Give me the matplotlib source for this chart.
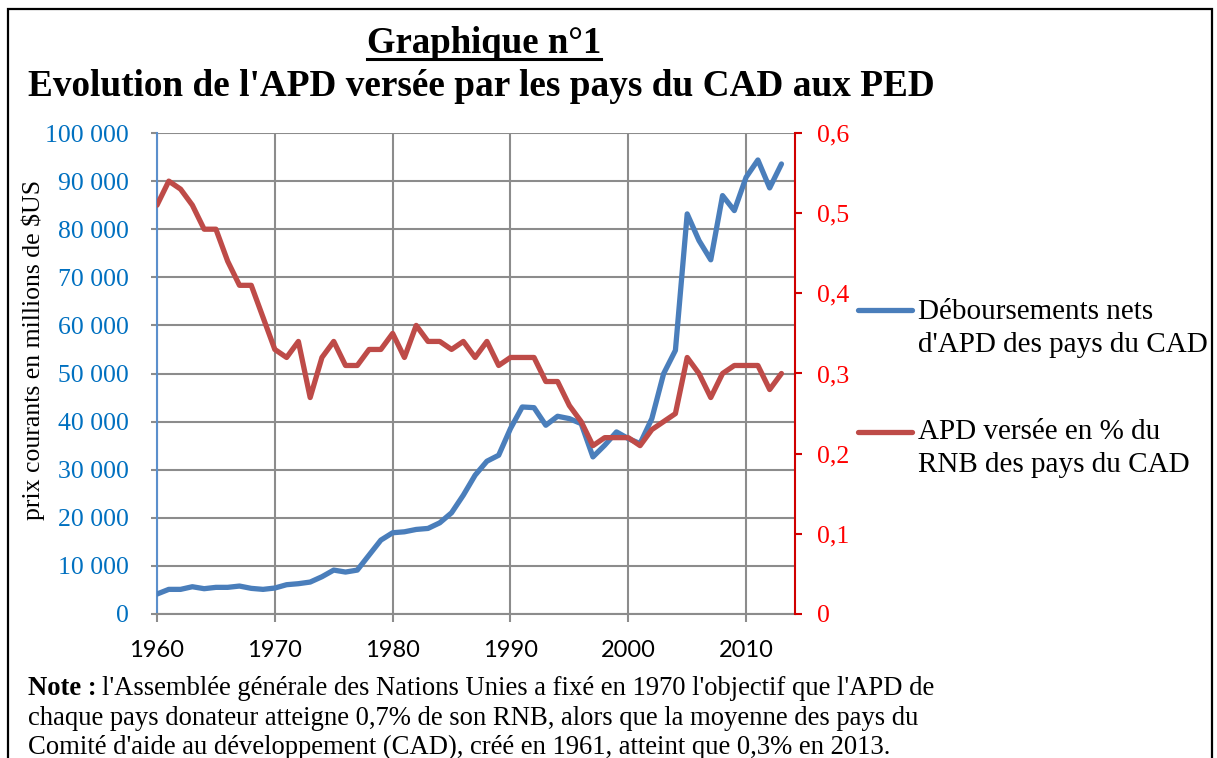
import matplotlib
matplotlib.use("Agg")
import matplotlib.pyplot as plt
from matplotlib.lines import Line2D
from matplotlib.patches import Rectangle
from matplotlib.ticker import FuncFormatter, MultipleLocator

annees = list(range(1960, 2014))

# APD nette des pays du CAD (millions de $US courants)
apd_nette = [4150, 5120, 5120, 5670, 5260, 5540, 5540, 5810, 5330, 5120,
             5400, 6090, 6300, 6640, 7750, 9130, 8720, 9130, 12250, 15360,
             16890, 17090, 17580, 17790, 18960, 21040, 24710, 28860, 31760, 33010,
             38550, 43040, 42900, 39240, 41110, 40620, 39580, 32660, 35090, 37850,
             36470, 35430, 40620, 49970, 54810, 83180, 77650, 73630, 86990, 83870,
             90800, 94390, 88580, 93560]

# APD en % du RNB
apd_rnb = [0.51, 0.54, 0.53, 0.51, 0.48, 0.48, 0.44, 0.41, 0.41, 0.37,
           0.33, 0.32, 0.34, 0.27, 0.32, 0.34, 0.31, 0.31, 0.33, 0.33,
           0.35, 0.32, 0.36, 0.34, 0.34, 0.33, 0.34, 0.32, 0.34, 0.31,
           0.32, 0.32, 0.32, 0.29, 0.29, 0.26, 0.24, 0.21, 0.22, 0.22,
           0.22, 0.21, 0.23, 0.24, 0.25, 0.32, 0.30, 0.27, 0.30, 0.31,
           0.31, 0.31, 0.28, 0.30]

lib_apd = ["Déboursements nets", "d'APD des pays du CAD"]
lib_rnb = ["APD versée en % du", "RNB des pays du CAD"]

BLEU = '#4A7EBB'
ROUGE = '#BE4B48'
GRIS = '#8C8C8C'
serif = 'Liberation Serif'

W, H = 1217, 758
fig = plt.figure(figsize=(W / 100, H / 100), dpi=100)

# cadre
fig.add_artist(Rectangle((8 / W, -0.05), 1204 / W, 1.05 - 9 / H, transform=fig.transFigure,
                         fill=False, edgecolor='black', linewidth=1.6))

ax = fig.add_axes([157 / W, 1 - 614 / H, (795 - 157) / W, (614 - 133) / H])
ax2 = ax.twinx()

ax.plot(annees, apd_nette, color=BLEU, linewidth=3.8, solid_capstyle='round', zorder=3)
ax2.plot(annees, apd_rnb, color=ROUGE, linewidth=3.8, solid_capstyle='round', zorder=3)

ax.set_xlim(1960, 2014.15)
ax.set_ylim(0, 100000)
ax2.set_ylim(0, 0.6)

ax.xaxis.set_major_locator(MultipleLocator(10))
ax.yaxis.set_major_locator(MultipleLocator(10000))
ax2.yaxis.set_major_locator(MultipleLocator(0.1))

ax.grid(True, color=GRIS, linewidth=1.5, zorder=0)
ax.set_axisbelow(True)

for s in ['top', 'right']:
    ax.spines[s].set_visible(False)
ax.spines['bottom'].set_color(GRIS)
ax.spines['bottom'].set_linewidth(1.5)
ax.spines['left'].set_color('#5B8FCC')
ax.spines['left'].set_linewidth(1.5)
for s in ['top', 'left', 'bottom']:
    ax2.spines[s].set_visible(False)
ax2.spines['right'].set_color('#D00000')
ax2.spines['right'].set_linewidth(1.5)

ax.yaxis.set_major_formatter(FuncFormatter(lambda v, _: f'{int(v):,}'.replace(',', ' ')))
ax2.yaxis.set_major_formatter(FuncFormatter(lambda v, _: '0' if v == 0 else f'{v:.1f}'.replace('.', ',')))

ax.tick_params(axis='y', direction='out', length=4.5, width=1.5, color=GRIS,
               labelcolor='#0070C0', labelsize=18.5, pad=16)
ax.tick_params(axis='x', direction='out', length=6, width=1.5, color=GRIS,
               labelcolor='black', labelsize=17, pad=13)
ax2.tick_params(axis='y', direction='out', length=5, width=1.5, color='#D00000',
                labelcolor='#FF0000', labelsize=18.5, pad=11)
for lab in ax.get_yticklabels() + ax2.get_yticklabels():
    lab.set_fontfamily(serif)
for lab in ax.get_xticklabels():
    lab.set_fontfamily('Lato')

ax.set_ylabel('prix courants en millions de $US', fontfamily=serif, fontsize=18.5)
ax.yaxis.set_label_coords(-(157 - 45) / (795 - 157), 0.548)

# titres
t1 = fig.text(484 / W, 1 - 53 / H, 'Graphique n°1', ha='center', va='baseline',
              fontfamily=serif, fontsize=26.5, fontweight='bold')
fig.text(28 / W, 1 - 96 / H, "Evolution de l'APD versée par les pays du CAD aux PED",
         ha='left', va='baseline', fontfamily=serif, fontsize=26.8, fontweight='bold')

# légende
def entree(y_handle, y_base, couleur, lignes):
    fig.add_artist(Line2D([858 / W, 912 / W], [1 - y_handle / H] * 2, transform=fig.transFigure,
                          color=couleur, linewidth=3.8, solid_capstyle='round'))
    for i, txt in enumerate(lignes):
        fig.text(918 / W, 1 - (y_base + 33.5 * i) / H, txt, ha='left', va='baseline',
                 fontfamily=serif, fontsize=21)

entree(310, 319, BLEU, lib_apd)
entree(432, 439, ROUGE, lib_rnb)

# note
taille = 19.2
n1 = fig.text(28 / W, 1 - 695 / H, 'Note :', ha='left', va='baseline',
              fontfamily=serif, fontsize=taille, fontweight='bold')
rend = fig.canvas.get_renderer()
bb = n1.get_window_extent(rend)
fig.text((bb.x1 + 5) / W, 1 - 695 / H,
         "l'Assemblée générale des Nations Unies a fixé en 1970 l'objectif que l'APD de",
         ha='left', va='baseline', fontfamily=serif, fontsize=taille)
fig.text(28 / W, 1 - 725 / H,
         "chaque pays donateur atteigne 0,7% de son RNB, alors que la moyenne des pays du",
         ha='left', va='baseline', fontfamily=serif, fontsize=taille)
fig.text(28 / W, 1 - 754 / H,
         "Comité d'aide au développement (CAD), créé en 1961, atteint que 0,3% en 2013.",
         ha='left', va='baseline', fontfamily=serif, fontsize=taille)

# soulignement du titre
bb = t1.get_window_extent(rend)
fig.add_artist(Line2D([bb.x0 / W, bb.x1 / W], [1 - 59 / H] * 2, transform=fig.transFigure,
                      color='black', linewidth=2.2))

fig.savefig('out.png', dpi=100)
